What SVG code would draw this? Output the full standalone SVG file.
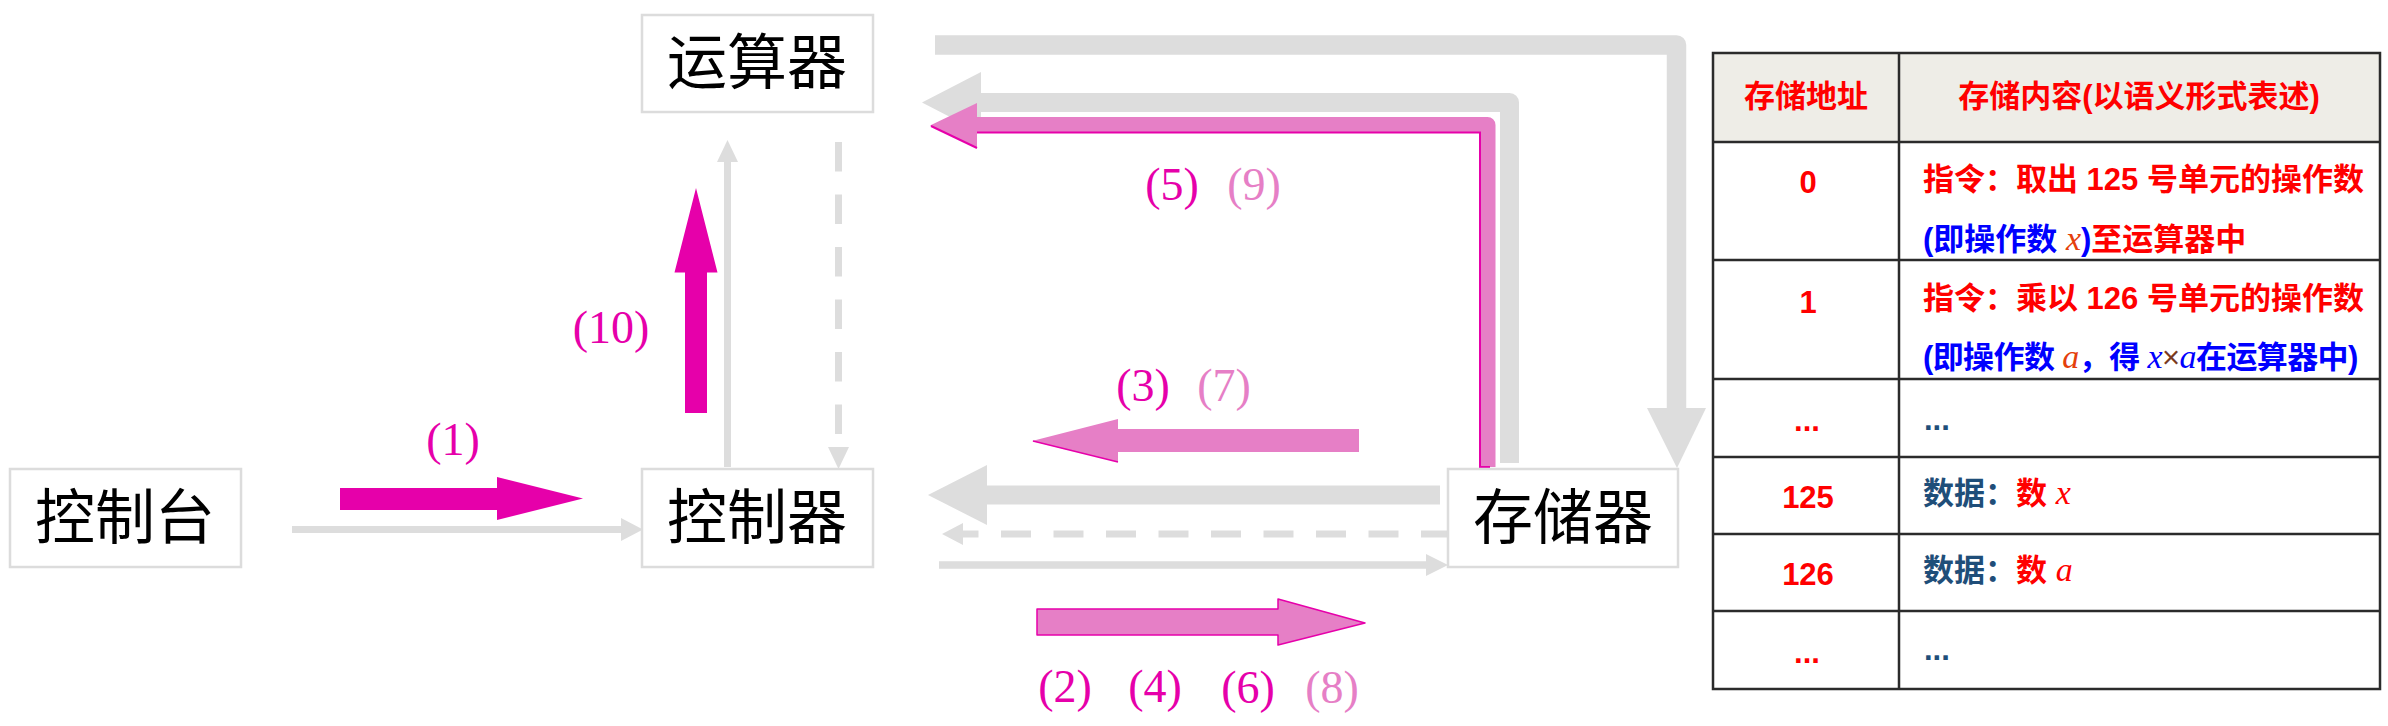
<svg xmlns="http://www.w3.org/2000/svg" width="2388" height="726" viewBox="0 0 2388 726">
<style>
.box{fill:#fff;stroke:#dcdcdc;stroke-width:2.5}
.nt{font-family:"Noto Sans CJK SC","Noto Sans CJK JP",sans-serif;font-size:60px;fill:#000;text-anchor:middle}
.lb{font-family:"Liberation Serif","DejaVu Serif",serif;font-size:46px;text-anchor:middle}
.mg{fill:#e600aa}
.pk{fill:#e67fc6}
.gl{stroke:#dddddd;fill:none}
.gf{fill:#dddddd}
.tb{font-family:"Liberation Sans","Noto Sans CJK SC",sans-serif;font-weight:bold;font-size:31px}
.red{fill:#ff0000}
.blue{fill:#0000ff}
.dblue{fill:#1f4e79}
.it{font-family:"Liberation Serif",serif;font-style:italic;font-weight:normal}
.tl{stroke:#2b2b2b;stroke-width:2.5;fill:none}
</style>

<g id="connectors">
  <!-- console -> controller thin -->
  <line class="gl" x1="292" y1="529.5" x2="622" y2="529.5" stroke-width="7"/>
  <polygon class="gf" points="621,518 643,529.5 621,541"/>
  <!-- (1) -->
  <polygon class="mg" points="340,488 497,488 497,477 583,498.5 497,520 497,510 340,510"/>
  <!-- controller -> ALU thin up -->
  <line class="gl" x1="727.5" y1="467" x2="727.5" y2="161" stroke-width="7"/>
  <polygon class="gf" points="717,162 727.5,140 738,162"/>
  <!-- ALU -> controller dashed -->
  <line class="gl" x1="838.5" y1="142" x2="838.5" y2="447" stroke-width="7" stroke-dasharray="29.5 23"/>
  <polygon class="gf" points="828,447 838.5,469 849,447"/>
  <!-- (10) -->
  <polygon class="mg" points="685,413 685,272.5 674.5,272.5 696,188 717.5,272.5 707,272.5 707,413"/>
  <!-- ALU -> memory big L -->
  <path class="gl" d="M935,45 H1676.5 V408" stroke-width="19.5" stroke-linejoin="round"/>
  <polygon class="gf" points="1647,408 1706,408 1677,468"/>
  <!-- memory -> ALU big L -->
  <path class="gl" d="M1509.5,463 V102.5 H981" stroke-width="19" stroke-linejoin="round"/>
  <polygon class="gf" points="981,72 922,102.5 981,133"/>
  <!-- (5)(9) pink L -->
  <path d="M1487.5,467 V125 H976" fill="none" stroke="#e67fc6" stroke-width="16" stroke-linejoin="round"/>
  <polygon class="pk" points="977,103 930,125.5 977,148"/>
  <path d="M977,132.5 H1480 V467 H1490" fill="none" stroke="#e600aa" stroke-width="2"/>
  <path d="M931,126 L977,148" fill="none" stroke="#e600aa" stroke-width="2"/>
  <!-- memory -> controller big -->
  <rect class="gf" x="986" y="485.5" width="454" height="19"/>
  <polygon class="gf" points="987,465 928,495 987,525"/>
  <!-- memory -> controller dashed -->
  <line class="gl" x1="1451" y1="534" x2="963" y2="534" stroke-width="7" stroke-dasharray="30 22.5"/>
  <polygon class="gf" points="963,523 942,534 963,545"/>
  <!-- controller -> memory thin -->
  <line class="gl" x1="939" y1="565" x2="1427" y2="565" stroke-width="7.5"/>
  <polygon class="gf" points="1426,554 1448,565 1426,576"/>
  <!-- (3)(7) pink left -->
  <polygon class="pk" points="1359,429 1118,429 1118,419 1032,441 1118,462 1118,452 1359,452"/>
  <path d="M1033,441 L1118,462" fill="none" stroke="#e600aa" stroke-width="1.5"/>
  <!-- (2)(4)(6)(8) pink right -->
  <polygon class="pk" points="1037,609 1278,609 1278,599 1365,623 1278,645 1278,635 1037,635" stroke="#e600aa" stroke-width="1.5" stroke-linejoin="round"/>
</g>

<g id="labels">
  <text class="lb mg" x="453" y="455">(1)</text>
  <text class="lb mg" x="611" y="343">(10)</text>
  <text class="lb mg" x="1172" y="200">(5)</text>
  <text class="lb pk" x="1254" y="200">(9)</text>
  <text class="lb mg" x="1143" y="401">(3)</text>
  <text class="lb pk" x="1224" y="401">(7)</text>
  <text class="lb mg" x="1065" y="702">(2)</text>
  <text class="lb mg" x="1155" y="702">(4)</text>
  <text class="lb mg" x="1248" y="703">(6)</text>
  <text class="lb pk" x="1332" y="703">(8)</text>
</g>

<g id="node-alu">
  <rect class="box" x="642" y="15" width="231" height="97"/>
  <text class="nt" x="757" y="84">运算器</text>
</g>
<g id="node-console">
  <rect class="box" x="10" y="469" width="231" height="98"/>
  <text class="nt" x="125" y="539">控制台</text>
</g>
<g id="node-controller">
  <rect class="box" x="642" y="469" width="231" height="98"/>
  <text class="nt" x="757" y="539">控制器</text>
</g>
<g id="node-memory">
  <rect class="box" x="1448" y="469" width="230" height="98"/>
  <text class="nt" x="1563" y="539">存储器</text>
</g>

<g id="memory-table">
  <rect x="1713" y="53" width="667" height="89" fill="#eeede7"/>
  <rect class="tl" x="1713" y="53" width="667" height="636"/>
  <line class="tl" x1="1899" y1="53" x2="1899" y2="689"/>
  <line class="tl" x1="1713" y1="142" x2="2380" y2="142"/>
  <line class="tl" x1="1713" y1="260" x2="2380" y2="260"/>
  <line class="tl" x1="1713" y1="379" x2="2380" y2="379"/>
  <line class="tl" x1="1713" y1="457" x2="2380" y2="457"/>
  <line class="tl" x1="1713" y1="534" x2="2380" y2="534"/>
  <line class="tl" x1="1713" y1="611" x2="2380" y2="611"/>

  <text class="tb red" x="1806" y="107" text-anchor="middle" font-size="30">存储地址</text>
  <text class="tb red" x="2139" y="107" text-anchor="middle" font-size="30">存储内容(以语义形式表述)</text>

  <text class="tb red" x="1808" y="193" text-anchor="middle" font-size="33">0</text>
  <text class="tb red" x="1923" y="190">指令：取出 125 号单元的操作数</text>
  <text class="tb" x="1923" y="250"><tspan class="blue">(即操作数 </tspan><tspan class="it" fill="#e4400c" font-size="34">x</tspan><tspan class="blue">)</tspan><tspan class="red">至运算器中</tspan></text>

  <text class="tb red" x="1808" y="313" text-anchor="middle" font-size="33">1</text>
  <text class="tb red" x="1923" y="309">指令：乘以 126 号单元的操作数</text>
  <text class="tb" x="1923" y="368" letter-spacing="-0.6"><tspan class="blue">(即操作数 </tspan><tspan class="it" fill="#e4400c" font-size="34">a</tspan><tspan class="blue">，得 </tspan><tspan class="it blue" font-size="34">x</tspan><tspan fill="#7a3a20" font-weight="normal">×</tspan><tspan class="it blue" font-size="34">a</tspan><tspan class="blue">在运算器中)</tspan></text>

  <text class="tb red" x="1807" y="431" text-anchor="middle">...</text>
  <text class="tb dblue" x="1924" y="430" font-size="22">...</text>

  <text class="tb red" x="1808" y="508" text-anchor="middle" font-size="33">125</text>
  <text class="tb" x="1923" y="504"><tspan class="dblue">数据：</tspan><tspan class="red">数 </tspan><tspan class="it red" font-size="34">x</tspan></text>

  <text class="tb red" x="1808" y="585" text-anchor="middle" font-size="33">126</text>
  <text class="tb" x="1923" y="581"><tspan class="dblue">数据：</tspan><tspan class="red">数 </tspan><tspan class="it red" font-size="34">a</tspan></text>

  <text class="tb red" x="1807" y="663" text-anchor="middle">...</text>
  <text class="tb dblue" x="1924" y="660" font-size="22">...</text>
</g>
</svg>
